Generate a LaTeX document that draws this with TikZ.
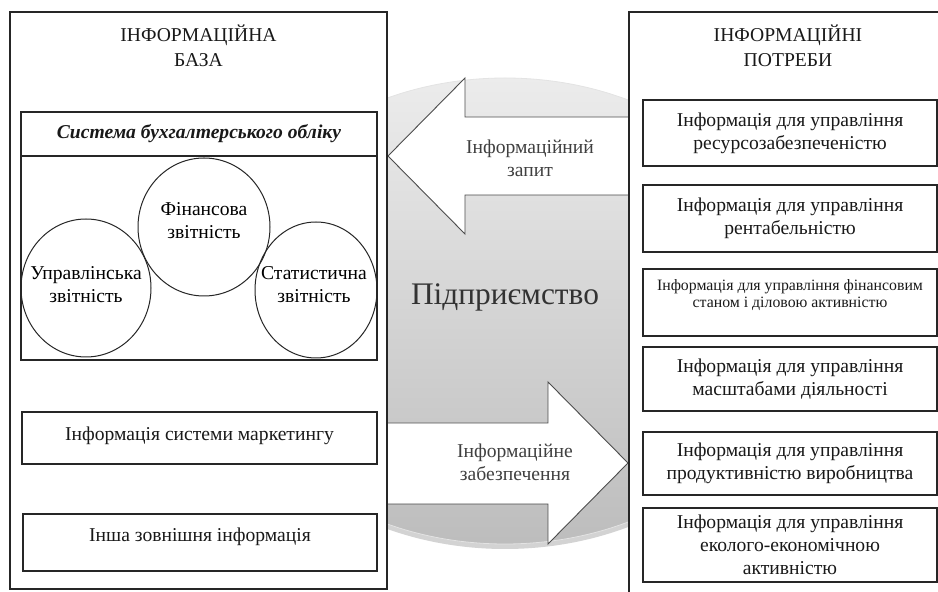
\documentclass[tikz,border=0pt]{standalone}
\usepackage{fontspec}
\setmainfont{Liberation Serif}
\usetikzlibrary{shapes.geometric, shadows}

\begin{document}
\begin{tikzpicture}[x=0.5pt, y=-0.5pt, font=\fontsize{9.8}{11.5}\selectfont]
%
% Skiss:
% ІНФОРМАЦІЙНА БАЗА  <-- запит ---------  ІНФОРМАЦІЙНІ ПОТРЕБИ
%        |              Підприємство               |
%        |            -- забезпечення -->          |
%
\tikzstyle{frame} = [rectangle, draw=black!85, line width=0.6pt, fill=white, inner sep=0pt, outer sep=0pt]
\tikzstyle{box} = [frame, align=center, text=black!90]
\tikzstyle{report} = [ellipse, draw=black!85, line width=0.5pt, inner sep=0pt, minimum height=69pt]
\tikzstyle{blockarrow} = [draw=black!70, line width=0.45pt, fill=white, line join=miter]
\tikzstyle{arrowtext} = [align=center, text=black!75]
\tikzstyle{title} = [align=center, text=black!90, font=\fontsize{9.8}{12.5}\selectfont]
\useasboundingbox (0,0) rectangle (938,592);
\clip (0,0) rectangle (938,592);
% Enterprise behind everything
\node (firm) [ellipse, minimum width=290pt, minimum height=233pt, top color=gray!15, bottom color=gray!52, draw=gray!22, line width=0.4pt, drop shadow={shadow xshift=0pt, shadow yshift=-2.5pt, opacity=0.35}] at (505,311) {};
\node (firm_text) [text=black!80, font=\fontsize{15.7}{18}\selectfont] at (505,297) {Підприємство};
% Arrows (block shapes)
\draw [blockarrow] (388,156) -- (465,78) -- (465,117) -- (640,117) -- (640,195) -- (465,195) -- (465,234) -- cycle;
\node (query) [arrowtext] at (530,158) {Інформаційний\\запит};
\draw [blockarrow] (380,423) -- (548,423) -- (548,382) -- (628,463) -- (548,544) -- (548,504) -- (380,504) -- cycle;
\node (supply) [arrowtext] at (515,462) {Інформаційне\\забезпечення};
% Left: information base
\node (base) [frame, minimum width=188.5pt, minimum height=288.5pt] at (198.5,300.5) {};
\node (base_title) [title] at (198.5,45.5) {ІНФОРМАЦІЙНА\\БАЗА};
\node (acc) [frame, minimum width=178pt, minimum height=124pt] at (199,236) {};
\node (acc_head) [box, minimum width=178pt, minimum height=22pt, font=\fontsize{9.8}{11.5}\selectfont\bfseries\itshape] at (199,134) {Система бухгалтерського обліку};
\node (fin) [report, minimum width=66pt] at (204,227) {};
\node (mgmt) [report, minimum width=65pt] at (86,288) {};
\node (stat) [report, minimum width=61pt, minimum height=68pt] at (316,290) {};
\node (fin_text) [align=center] at (204,221) {Фінансова\\звітність};
\node (mgmt_text) [align=center] at (86,285) {Управлінська\\звітність};
\node (stat_text) [align=center] at (314,285) {Статистична\\звітність};
\node (mkt) [box, minimum width=177.5pt, minimum height=26pt, text depth=4pt] at (199.5,438) {Інформація системи маркетингу};
\node (ext) [box, minimum width=177pt, minimum height=28.5pt, text depth=8pt] at (200,542.5) {Інша зовнішня інформація};
% Right: information needs
\node (needs) [frame, minimum width=160pt, minimum height=300pt, anchor=north west] at (629,12) {};
\node (needs_title) [title] at (788,45.5) {ІНФОРМАЦІЙНІ\\ПОТРЕБИ};
\node (need1) [box, minimum width=147pt, minimum height=33pt] at (790,133) {Інформація для управління\\ресурсозабезпеченістю};
\node (need2) [box, minimum width=147pt, minimum height=33.5pt] at (790,218.5) {Інформація для управління\\рентабельністю};
\node (need3) [box, minimum width=147pt, minimum height=33.5pt, text depth=9pt, font=\fontsize{7.9}{8.3}\selectfont] at (790,302.5) {Інформація для управління фінансовим\\станом і діловою активністю};
\node (need4) [box, minimum width=147pt, minimum height=32pt] at (790,379) {Інформація для управління\\масштабами діяльності};
\node (need5) [box, minimum width=147pt, minimum height=31.5pt] at (790,463.5) {Інформація для управління\\продуктивністю виробництва};
\node (need6) [box, minimum width=147pt, minimum height=37pt] at (790,545) {Інформація для управління\\еколого-економічною\\активністю};
\end{tikzpicture}
\end{document}
